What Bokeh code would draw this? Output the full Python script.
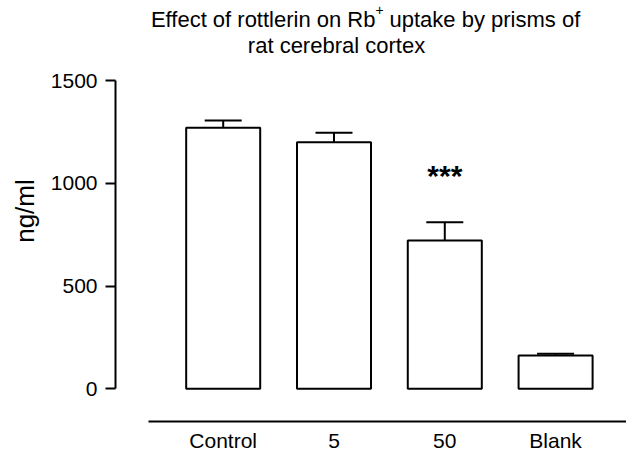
from bokeh.plotting import figure
from bokeh.models import Range1d, Label, FixedTicker, ColumnDataSource
from bokeh.embed import file_html
from bokeh.resources import INLINE

# ---- data ----
categories = ["Control", "5", "50", "Blank"]
means = [1270, 1200, 721, 162]
sems = [35, 46, 89, 8]
significance = ["", "", "***", ""]
y_ticks = [0, 500, 1000, 1500]
y_label = "ng/ml"

FONT = "Liberation Sans"

xs = [i + 1 for i in range(len(categories))]
upper = [m + s for m, s in zip(means, sems)]
bar_w = 0.668
cap_half = bar_w / 4

src = ColumnDataSource(dict(
    x=xs, top=means, upper=upper,
    x0=[x - cap_half for x in xs], x1=[x + cap_half for x in xs],
))

p = figure(width=626, height=454, output_backend="svg", toolbar_location=None,
           x_range=Range1d(0.028, 4.640), y_range=Range1d(-159.1, 1889.3),
           min_border_left=115, min_border_right=0, min_border_top=0,
           min_border_bottom=33)
p.outline_line_color = None
p.xgrid.visible = False
p.ygrid.visible = False
p.background_fill_color = "white"
p.border_fill_color = "white"

# bars
p.vbar(x="x", top="top", bottom=0, width=bar_w, source=src,
       fill_color="white", line_color="black", line_width=2)
# error bars (upper only)
p.segment(x0="x", y0="top", x1="x", y1="upper", source=src,
          line_color="black", line_width=2)
p.segment(x0="x0", y0="upper", x1="x1", y1="upper", source=src,
          line_color="black", line_width=2)

# significance marks
for x, u, s in zip(xs, upper, significance):
    if s:
        p.add_layout(Label(x=x, y=u + 230, text=s, text_align="center",
                           text_baseline="alphabetic", text_font=FONT,
                           text_font_size="30px", text_font_style="bold",
                           text_color="black"))

# y axis
yax = p.yaxis[0]
yax.bounds = (0, 1500)
yax.ticker = FixedTicker(ticks=y_ticks)
yax.minor_tick_line_color = None
yax.major_tick_in = 0
yax.major_tick_out = 10
yax.major_tick_line_width = 2
yax.axis_line_width = 2
yax.axis_line_color = "black"
yax.major_tick_line_color = "black"
yax.major_label_text_font = FONT
yax.major_label_text_font_size = "21px"
yax.major_label_text_color = "black"
yax.major_label_standoff = 8
yax.axis_label = y_label
yax.axis_label_text_font = FONT
yax.axis_label_text_font_size = "26px"
yax.axis_label_text_font_style = "normal"
yax.axis_label_text_color = "black"
yax.axis_label_standoff = 8

# x axis
xax = p.xaxis[0]
xax.bounds = (0.3285, 4.640)
xax.ticker = FixedTicker(ticks=xs)
xax.major_label_overrides = {x: c for x, c in zip(xs, categories)}
xax.major_tick_line_color = None
xax.minor_tick_line_color = None
xax.major_tick_in = 0
xax.major_tick_out = 0
xax.axis_line_width = 2
xax.axis_line_color = "black"
xax.major_label_text_font = FONT
xax.major_label_text_font_size = "21px"
xax.major_label_text_color = "black"
xax.major_label_standoff = 7

# title (with superscript +)
title_kw = dict(text_font=FONT, text_color="black", text_baseline="alphabetic")
p.add_layout(Label(x=2.3745, y=1797, text="Effect of rottlerin on Rb",
                   text_align="right", text_font_size="22px", **title_kw))
p.add_layout(Label(x=2.411, y=1841, text="+", text_align="center",
                   text_font_size="14px", **title_kw))
p.add_layout(Label(x=2.5009, y=1797, text="uptake by prisms of",
                   text_align="left", text_font_size="22px", **title_kw))
p.add_layout(Label(x=2.0226, y=1670, text="rat cerebral cortex",
                   text_align="center", text_font_size="22px", **title_kw))

open("out.html", "w").write(file_html(p, INLINE))
